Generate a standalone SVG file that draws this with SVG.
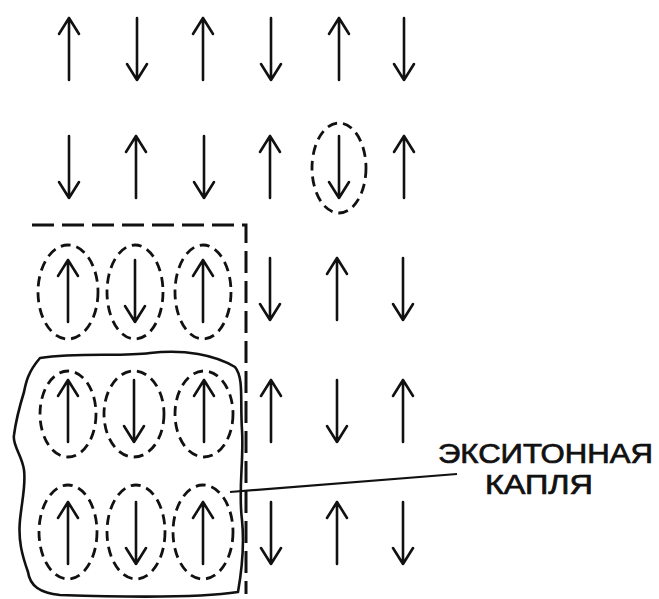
<svg xmlns="http://www.w3.org/2000/svg" xmlns:xlink="http://www.w3.org/1999/xlink" width="659" height="599" viewBox="0 0 659 599">
  <style>
    .spin { fill: none; stroke: #111; stroke-width: 2.6; stroke-linecap: round; stroke-linejoin: round; }
    .pair { fill: none; stroke: #111; stroke-width: 2.8; stroke-dasharray: 10 6; }
    .frame { fill: none; stroke: #111; stroke-width: 3; stroke-dasharray: 22 8; }
    .drop { fill: none; stroke: #111; stroke-width: 2.6; stroke-linejoin: round; }
    .lead { fill: none; stroke: #111; stroke-width: 2.2; }
    .label { font-family: "Liberation Sans", Arial, sans-serif; font-size: 27px; fill: #111; stroke: #111; stroke-width: 0.7; text-anchor: start; }
  </style>
  <defs>
    <!-- spin arrows, centred on the origin, 62 px long -->
    <path id="up" class="spin" d="M0,31 V-31 M-10,-15 L0,-31 L10,-15"/>
    <path id="down" class="spin" d="M0,-31 V31 M-10,15 L0,31 L10,15"/>
  </defs>

  <rect width="659" height="599" fill="#fff"/>

  <!-- row 1 -->
  <g id="r1c1"><use xlink:href="#up" x="69" y="49"/></g>
  <g id="r1c2"><use xlink:href="#down" x="137" y="49"/></g>
  <g id="r1c3"><use xlink:href="#up" x="203" y="49"/></g>
  <g id="r1c4"><use xlink:href="#down" x="271" y="49"/></g>
  <g id="r1c5"><use xlink:href="#up" x="339" y="49"/></g>
  <g id="r1c6"><use xlink:href="#down" x="404" y="49"/></g>

  <!-- row 2 -->
  <g id="r2c1"><use xlink:href="#down" x="69" y="167"/></g>
  <g id="r2c2"><use xlink:href="#up" x="136" y="167"/></g>
  <g id="r2c3"><use xlink:href="#down" x="204" y="167"/></g>
  <g id="r2c4"><use xlink:href="#up" x="270" y="167"/></g>
  <g id="r2c5"><ellipse class="pair" cx="339" cy="168" rx="27" ry="45"/><use xlink:href="#down" x="339" y="167"/></g>
  <g id="r2c6"><use xlink:href="#up" x="404" y="167"/></g>

  <!-- row 3 -->
  <g id="r3c1"><ellipse class="pair" cx="68" cy="292" rx="30" ry="47"/><use xlink:href="#up" x="68" y="291"/></g>
  <g id="r3c2"><ellipse class="pair" cx="135" cy="292" rx="28" ry="47"/><use xlink:href="#down" x="135" y="291"/></g>
  <g id="r3c3"><ellipse class="pair" cx="203" cy="292" rx="28" ry="47"/><use xlink:href="#up" x="203" y="291"/></g>
  <g id="r3c4"><use xlink:href="#down" x="270" y="289"/></g>
  <g id="r3c5"><use xlink:href="#up" x="337" y="289"/></g>
  <g id="r3c6"><use xlink:href="#down" x="403" y="289"/></g>

  <!-- row 4 -->
  <g id="r4c1"><ellipse class="pair" cx="68" cy="414" rx="28" ry="43"/><use xlink:href="#up" x="68" y="411"/></g>
  <g id="r4c2"><ellipse class="pair" cx="134" cy="414" rx="30" ry="43"/><use xlink:href="#down" x="134" y="411"/></g>
  <g id="r4c3"><ellipse class="pair" cx="204" cy="414" rx="29" ry="43"/><use xlink:href="#up" x="204" y="411"/></g>
  <g id="r4c4"><use xlink:href="#up" x="271" y="411"/></g>
  <g id="r4c5"><use xlink:href="#down" x="337" y="411"/></g>
  <g id="r4c6"><use xlink:href="#up" x="403" y="411"/></g>

  <!-- row 5 -->
  <g id="r5c1"><ellipse class="pair" cx="68" cy="532" rx="29" ry="47"/><use xlink:href="#up" x="68" y="533"/></g>
  <g id="r5c2"><ellipse class="pair" cx="136" cy="532" rx="29" ry="47"/><use xlink:href="#down" x="136" y="533"/></g>
  <g id="r5c3"><ellipse class="pair" cx="203" cy="532" rx="30" ry="47"/><use xlink:href="#up" x="203" y="533"/></g>
  <g id="r5c4"><use xlink:href="#down" x="271" y="533"/></g>
  <g id="r5c5"><use xlink:href="#up" x="337" y="533"/></g>
  <g id="r5c6"><use xlink:href="#down" x="403" y="533"/></g>

  <!-- region of bound pairs (open dashed frame) -->
  <g id="pair-region"><path class="frame" d="M32,225 H246 V594"/></g>

  <!-- the droplet outline -->
  <g id="droplet">
    <path class="drop" d="M40,358 C80,352 120,357 150,353 C185,349 215,355 235,367 C244,378 240,400 242,430 C244,460 238,490 242,520 C245,550 241,575 238,592 C200,598 120,597 60,595 C40,593 30,586 28,572 C22,555 18,540 20,520 C22,500 26,485 24,470 C22,455 12,445 14,435 C16,420 20,405 24,392 C26,382 28,372 40,358 Z"/>
  </g>

  <!-- leader from label to droplet -->
  <g id="connectors"><path class="lead" d="M230,492 L457,474"/></g>

  <g id="caption">
    <text class="label" x="438" y="463" textLength="215" lengthAdjust="spacingAndGlyphs">ЭКСИТОННАЯ</text>
    <text class="label" x="485" y="494" textLength="108" lengthAdjust="spacingAndGlyphs">КАПЛЯ</text>
  </g>
</svg>
